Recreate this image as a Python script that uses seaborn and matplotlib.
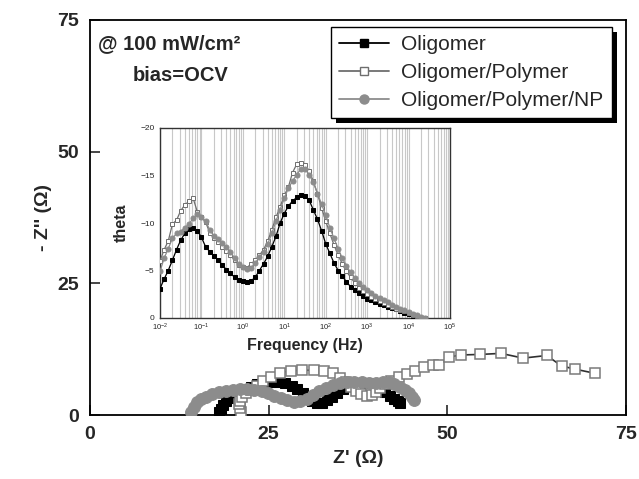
import matplotlib
matplotlib.use("Agg")
import matplotlib.pyplot as plt
import seaborn as sns
from matplotlib.lines import Line2D
from matplotlib.patches import Rectangle
from matplotlib.ticker import LogLocator, MultipleLocator, NullFormatter, FixedLocator

# ---------------- data ----------------
series_names = ["Oligomer", "Oligomer/Polymer", "Oligomer/Polymer/NP"]

# Nyquist plot: Z' (ohm) and -Z'' (ohm)
zre_olig = [18.1, 18.3, 18.6, 19.0, 19.5, 20.1, 20.8, 21.6, 22.5, 23.4, 24.3, 25.3,
            26.3, 27.3, 28.2, 29.0, 29.8, 30.5, 31.1, 31.7, 32.4, 33.1, 33.8, 34.6,
            35.4, 36.2, 37.1, 38.0, 38.9, 39.8, 40.6, 41.3, 42.0, 42.6, 43.1, 43.4]
zim_olig = [0.5, 1.2, 1.9, 2.6, 3.2, 3.8, 4.4, 4.9, 5.4, 5.8, 6.1, 6.3,
            6.3, 6.1, 5.6, 4.9, 4.1, 3.3, 2.7, 2.3, 2.3, 2.8, 3.5, 4.2,
            4.9, 5.5, 5.9, 6.1, 6.0, 5.6, 5.0, 4.3, 3.6, 3.0, 2.6, 2.3]

zre_poly = [21.1, 21.0, 20.9, 21.0, 21.3, 21.8, 22.5, 23.3, 24.2, 25.3, 26.6, 28.1,
            29.7, 31.3, 32.8, 34.0, 35.0, 35.8, 36.5, 37.2, 37.9, 38.7, 39.4, 40.0,
            40.6, 41.3, 42.1, 43.2, 44.3, 45.5, 46.7, 48.0, 48.9, 50.2, 51.9, 54.6,
            57.5, 60.6, 63.9, 66.0, 67.9, 70.7]
zim_poly = [0.6, 1.3, 2.0, 2.7, 3.4, 4.1, 4.8, 5.6, 6.4, 7.3, 8.0, 8.4,
            8.5, 8.5, 8.4, 7.9, 7.1, 6.2, 5.3, 4.5, 3.9, 3.6, 3.8, 4.4,
            5.2, 5.9, 6.5, 7.2, 7.7, 8.4, 9.1, 9.4, 9.4, 11.0, 11.4, 11.5,
            11.7, 10.8, 11.3, 9.3, 8.7, 7.9]

zre_np = [14.2, 14.5, 15.0, 15.6, 16.3, 17.1, 18.0, 19.0, 20.0, 21.0, 22.0, 23.0,
          24.0, 24.9, 25.8, 26.7, 27.6, 28.5, 29.4, 30.3, 31.2, 32.1, 33.0, 34.0,
          35.0, 36.0, 37.0, 38.0, 39.0, 40.0, 41.0, 41.8, 42.6, 43.4, 44.1, 44.7,
          45.1, 45.4]
zim_np = [0.5, 1.5, 2.4, 3.0, 3.5, 3.9, 4.3, 4.6, 4.8, 4.9, 4.9, 4.8,
          4.6, 4.2, 3.7, 3.2, 2.8, 2.5, 2.6, 3.1, 3.8, 4.6, 5.2, 5.7,
          6.1, 6.3, 6.3, 6.2, 6.1, 6.1, 6.3, 6.3, 5.9, 5.4, 4.8, 4.1,
          3.5, 2.9]

# Bode phase (inset): frequency (Hz) and theta (deg)
freq_hz = [0.01, 0.0126, 0.0158, 0.02, 0.0251, 0.0316, 0.0398, 0.0501, 0.0631, 0.0794,
           0.1, 0.126, 0.158, 0.2, 0.251, 0.316, 0.398, 0.501, 0.631, 0.794,
           1.0, 1.26, 1.58, 2.0, 2.51, 3.16, 3.98, 5.01, 6.31, 7.94,
           10.0, 12.6, 15.8, 20.0, 25.1, 31.6, 39.8, 50.1, 63.1, 79.4,
           100, 126, 158, 200, 251, 316, 398, 501, 631, 794,
           1000, 1260, 1580, 2000, 2510, 3160, 3980, 5010, 6310, 7940,
           10000, 12600, 15800, 20000, 25100]
theta_olig = [-3.1, -4.1, -5.0, -6.1, -7.2, -8.2, -8.9, -9.4, -9.5, -9.2,
              -8.5, -7.5, -7.0, -6.5, -6.1, -5.6, -5.1, -4.7, -4.3, -4.0,
              -3.9, -3.8, -3.9, -4.3, -5.0, -5.7, -6.5, -7.5, -8.6, -10.0,
              -11.0, -11.8, -12.3, -12.7, -12.9, -12.8, -12.4, -11.4, -10.4, -9.2,
              -7.8, -6.8, -5.8, -5.0, -4.4, -3.8, -3.3, -2.9, -2.6, -2.3,
              -2.0, -1.85, -1.7, -1.5, -1.4, -1.2, -1.05, -0.9, -0.7, -0.55,
              -0.4, -0.2, -0.1, 0.0, 0.0]
theta_poly = [-6.0, -7.2, -8.1, -9.9, -10.3, -11.3, -11.9, -12.3, -12.6, -11.2,
              -10.6, -10.1, -9.0, -8.4, -8.0, -7.5, -7.1, -6.6, -6.1, -5.6,
              -5.4, -5.3, -5.7, -6.1, -6.6, -7.2, -8.1, -9.3, -10.6, -11.7,
              -12.9, -13.8, -15.3, -16.2, -16.3, -16.1, -15.5, -14.4, -13.1, -11.6,
              -10.2, -8.9, -7.7, -6.6, -5.7, -4.9, -4.3, -3.7, -3.2, -2.8,
              -2.5, -2.2, -2.0, -1.8, -1.6, -1.4, -1.2, -1.0, -0.85, -0.7,
              -0.5, -0.35, -0.2, -0.05, 0.0]
theta_np = [-4.9, -6.3, -7.3, -8.4, -8.9, -9.1, -9.5, -9.9, -10.5, -10.9,
            -10.6, -10.2, -9.3, -8.6, -8.3, -7.9, -7.5, -7.0, -6.3, -5.7,
            -5.4, -5.2, -5.3, -5.8, -6.4, -7.0, -7.8, -8.9, -10.2, -11.4,
            -12.6, -13.7, -14.4, -15.1, -15.7, -15.7, -15.1, -14.3, -13.1, -12.0,
            -10.8, -9.5, -8.4, -7.3, -6.3, -5.5, -4.8, -4.2, -3.7, -3.3,
            -3.0, -2.6, -2.35, -2.1, -1.9, -1.65, -1.4, -1.2, -1.0, -0.8,
            -0.6, -0.45, -0.3, -0.15, 0.0]

main_ticks = [0, 25, 50, 75]
inset_yticks = [-20, -15, -10, -5, 0]

# ---------------- style ----------------
sns.set_style("white")
plt.rcParams["font.family"] = ["Liberation Sans", "DejaVu Sans"]
plt.rcParams["mathtext.fontset"] = "custom"
plt.rcParams["mathtext.rm"] = "Liberation Sans"

C_BLACK = "#000000"
C_POLY = "#6e6e6e"
C_NP = "#8c8c8c"

fig = plt.figure(figsize=(6.39, 4.79), dpi=100)
W, H = 639, 479
L, R, T, B = 90, 626, 20, 415
ax = fig.add_axes([L / W, 1 - B / H, (R - L) / W, (B - T) / H])

sns.lineplot(x=zre_olig, y=zim_olig, sort=False, estimator=None, ax=ax,
             color=C_BLACK, linewidth=1.0, marker="s", markersize=7.5,
             markeredgecolor=C_BLACK, markerfacecolor=C_BLACK, zorder=3)
sns.lineplot(x=zre_poly, y=zim_poly, sort=False, estimator=None, ax=ax,
             color="#303030", linewidth=1.2, marker="s", markersize=7.2,
             markeredgecolor="#7a7a7a", markerfacecolor="white",
             markeredgewidth=1.1, zorder=4)
sns.lineplot(x=zre_np, y=zim_np, sort=False, estimator=None, ax=ax,
             color=C_NP, linewidth=1.0, marker="o", markersize=8.5,
             markeredgecolor=C_NP, markerfacecolor=C_NP, zorder=5)

ax.set_xlim(0, 75)
ax.set_ylim(0, 75)
ax.xaxis.set_major_locator(FixedLocator(main_ticks))
ax.yaxis.set_major_locator(FixedLocator(main_ticks))
ax.tick_params(axis="both", which="major", direction="in", length=7, width=1.2,
               labelsize=14, pad=8, bottom=True, left=True, top=False, right=False)
for lab in ax.get_xticklabels() + ax.get_yticklabels():
    lab.set_fontweight("bold")
for s in ax.spines.values():
    s.set_linewidth(1.3)
    s.set_color("black")
ax.set_xlabel("Z' (\u03a9)", fontsize=14, fontweight="bold", labelpad=5)
ax.set_ylabel("- Z'' (\u03a9)", fontsize=14, fontweight="bold", labelpad=4)

ax.text(0.015, 0.94, "@ 100 mW/cm\u00b2", transform=ax.transAxes, fontsize=14.5,
        fontweight="bold", ha="left", va="center")
ax.text(0.08, 0.86, "bias=OCV", transform=ax.transAxes, fontsize=14.5,
        fontweight="bold", ha="left", va="center")

handles = [
    Line2D([], [], color=C_BLACK, lw=1.3, marker="s", ms=6, mfc=C_BLACK, mec=C_BLACK),
    Line2D([], [], color=C_POLY, lw=1.3, marker="s", ms=6, mfc="white", mec=C_POLY),
    Line2D([], [], color=C_NP, lw=1.3, marker="o", ms=6.5, mfc=C_NP, mec=C_NP),
]
leg = ax.legend(handles, series_names, loc="upper right",
                bbox_to_anchor=((612 - L) / (R - L), 1 - (27 - T) / (B - T)),
                borderaxespad=0, fontsize=15, frameon=True, fancybox=False,
                framealpha=1.0, facecolor="white",
                handlelength=2.4, handletextpad=0.6, labelspacing=0.42,
                borderpad=0.4)
leg.get_frame().set_edgecolor("black")
leg.get_frame().set_linewidth(1.0)
leg.set_zorder(10)
fig.canvas.draw()
bb = leg.get_window_extent()
shadow = Rectangle((bb.x0 + 5, bb.y0 - 5), bb.width, bb.height,
                   transform=None, facecolor="black", edgecolor="none", zorder=9)
ax.add_artist(shadow)

# ---------------- inset ----------------
iL, iR, iT, iB = 160, 450, 128, 318
ins = fig.add_axes([iL / W, 1 - iB / H, (iR - iL) / W, (iB - iT) / H])
ins.set_zorder(20)
ins.set_xscale("log")
ins.set_xlim(1e-2, 1e5)
ins.set_ylim(0, -20)
ins.xaxis.set_major_locator(LogLocator(base=10, numticks=20))
ins.xaxis.set_minor_locator(LogLocator(base=10, subs=range(2, 10), numticks=100))
ins.xaxis.set_minor_formatter(NullFormatter())
ins.yaxis.set_major_locator(FixedLocator(inset_yticks))
ins.yaxis.set_minor_locator(MultipleLocator(2.5))
ins.grid(True, which="both", axis="x", color="#c8c8c8", linewidth=0.8)
ins.set_axisbelow(True)

sns.lineplot(x=freq_hz, y=theta_olig, estimator=None, ax=ins, color=C_BLACK,
             linewidth=0.9, marker="s", markersize=3, markeredgecolor=C_BLACK,
             markerfacecolor=C_BLACK, zorder=3)
sns.lineplot(x=freq_hz, y=theta_poly, estimator=None, ax=ins, color=C_POLY,
             linewidth=0.9, marker="s", markersize=3.2, markeredgecolor=C_POLY,
             markerfacecolor="white", markeredgewidth=0.7, zorder=4)
sns.lineplot(x=freq_hz, y=theta_np, estimator=None, ax=ins, color=C_NP,
             linewidth=0.9, marker="o", markersize=3.6, markeredgecolor=C_NP,
             markerfacecolor=C_NP, zorder=5)

ins.tick_params(axis="x", which="major", direction="in", length=3, width=0.8,
                labelsize=5.5, pad=3)
ins.tick_params(axis="y", which="major", direction="in", length=3, width=0.8,
                labelsize=6, pad=4)
ins.tick_params(axis="both", which="minor", direction="in", length=1.5, width=0.6)
for s in ins.spines.values():
    s.set_linewidth(1.0)
    s.set_color("#333333")
ins.set_xlabel("Frequency (Hz)", fontsize=11.5, fontweight="bold", labelpad=3)
ins.set_ylabel("theta", fontsize=11.5, fontweight="bold", labelpad=8)

fig.savefig("out.png", dpi=100)
